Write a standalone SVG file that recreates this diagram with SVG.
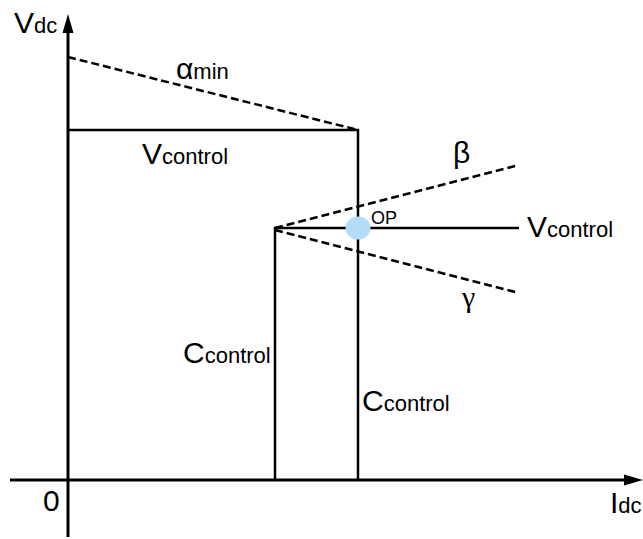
<svg xmlns="http://www.w3.org/2000/svg" width="643" height="539" viewBox="0 0 643 539">
<style>
.ax{stroke:#000;stroke-width:3;fill:none}
.s{stroke:#000;stroke-width:2.5;fill:none}
.d{stroke:#000;stroke-width:2.5;fill:none;stroke-dasharray:8 4}
text{font-family:"Liberation Sans",Arial,sans-serif;fill:#000}
.big{font-size:30px}
.sub{font-size:22px}
.op{font-size:18px}
</style>
<rect width="643" height="539" fill="#fff"/>
<g id="axes">
<line class="ax" x1="68" y1="537" x2="68" y2="30"/>
<polygon points="68,14 62.5,33 73.5,33" fill="#000"/>
<line class="ax" x1="10" y1="480" x2="627" y2="480"/>
<polygon points="643,480 624,474.5 624,485.5" fill="#000"/>
</g>
<g id="connectors">
<polyline class="s" points="68,130 358,130 358,480"/>
<polyline class="s" points="275,480 275,228 519,228"/>
<line class="d" x1="68" y1="57" x2="358" y2="130"/>
<line class="d" x1="275" y1="228" x2="519" y2="165"/>
<line class="d" x1="275" y1="230" x2="519" y2="293"/>
</g>
<g id="op">
<ellipse cx="358" cy="228" rx="12.5" ry="11.5" fill="#b3dcf8"/>
<text class="op" x="371" y="224">OP</text>
</g>
<g id="labels">
<text x="14" y="33"><tspan class="big">V</tspan><tspan class="sub">dc</tspan></text>
<text x="43" y="511" class="big">0</text>
<text x="610" y="513"><tspan class="big">I</tspan><tspan class="sub">dc</tspan></text>
<text x="176" y="79"><tspan class="big">α</tspan><tspan class="sub">min</tspan></text>
<text x="142" y="164"><tspan class="big">V</tspan><tspan class="sub">control</tspan></text>
<text x="527" y="237"><tspan class="big">V</tspan><tspan class="sub">control</tspan></text>
<text x="453" y="163" style="font-size:30px">β</text>
<text x="462" y="307" style="font-family:'Liberation Serif',serif;font-size:30px">γ</text>
<text x="183" y="363"><tspan class="big">C</tspan><tspan class="sub">control</tspan></text>
<text x="362" y="411"><tspan class="big">C</tspan><tspan class="sub">control</tspan></text>
</g>
</svg>
